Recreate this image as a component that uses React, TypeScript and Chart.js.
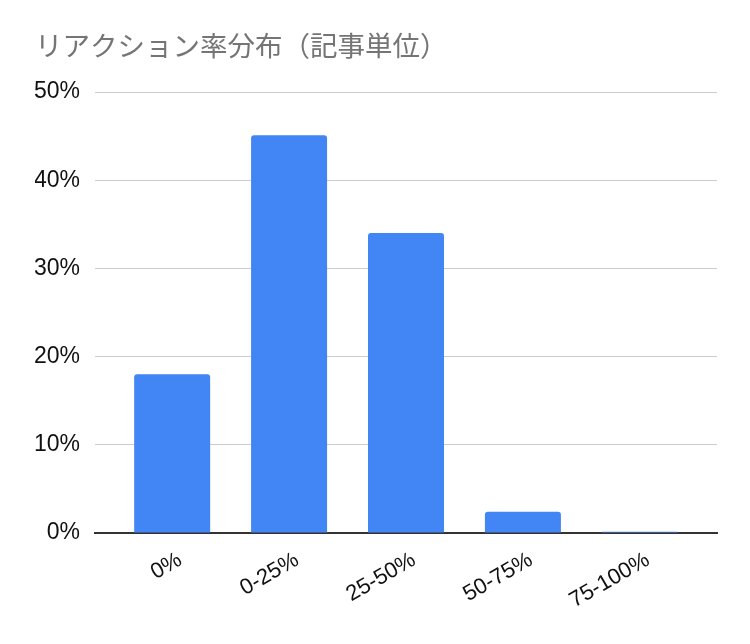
import { useEffect, useRef } from "react"
import { Chart, registerables } from "chart.js"

Chart.register(...registerables)

const categories = ["0%", "0-25%", "25-50%", "50-75%", "75-100%"]
const shares = [18.0, 45.1, 34.0, 2.4, 0.15]
const yTicks = [0, 10, 20, 30, 40, 50]

const LATIN = "'Liberation Sans', Arial, sans-serif"

export default function App() {
  const chartRef = useRef<HTMLCanvasElement>(null)
  const chartInstance = useRef<Chart | null>(null)

  useEffect(() => {
    if (!chartRef.current) return
    if (chartInstance.current) chartInstance.current.destroy()

    // categories sit on a linear axis so the plot keeps a margin on both sides
    const points = shares.map((v, i) => ({ x: i, y: v }))

    chartInstance.current = new Chart(chartRef.current, {
      type: "bar",
      data: {
        datasets: [
          {
            label: "リアクション率",
            data: points,
            backgroundColor: "#4285F4",
            borderRadius: 3,
            barPercentage: 0.65,
            categoryPercentage: 1,
          },
        ],
      },
      options: {
        animation: false,
        responsive: true,
        maintainAspectRatio: false,
        layout: { padding: { left: 35, right: 33, top: 0, bottom: 0 } },
        scales: {
          x: {
            type: "linear",
            min: -0.66,
            max: categories.length - 1 + 0.66,
            offset: false,
            grid: { display: false, drawTicks: false },
            border: { display: true, color: "#333333", width: 2 },
            afterBuildTicks: (scale) => {
              scale.ticks = categories.map((_, i) => ({ value: i }))
            },
            ticks: {
              color: "#111111",
              font: { family: LATIN, size: 22 },
              maxRotation: 30,
              minRotation: 30,
              padding: 14,
              labelOffset: 8,
              callback: (value) => categories[Number(value)] ?? "",
            },
            afterFit: (scale) => {
              scale.height = 111
            },
          },
          y: {
            min: yTicks[0],
            max: yTicks[yTicks.length - 1],
            grid: { color: "#cccccc", drawTicks: false },
            border: { display: false },
            afterBuildTicks: (scale) => {
              scale.ticks = yTicks.map((v) => ({ value: v }))
            },
            ticks: {
              color: "#111111",
              font: { family: LATIN, size: 23 },
              padding: 15,
              callback: (value) => `${value}%`,
            },
            afterFit: (scale) => {
              scale.width = 60
            },
          },
        },
        plugins: {
          legend: { display: false },
          tooltip: { enabled: false },
          title: {
            display: true,
            text: "リアクション率分布（記事単位）",
            align: "start",
            color: "#757575",
            font: { family: "'Noto Sans CJK JP', sans-serif", size: 27.5, weight: "normal" },
            padding: { top: 29, bottom: 30 },
          },
        },
      },
    })

    return () => {
      if (chartInstance.current) {
        chartInstance.current.destroy()
        chartInstance.current = null
      }
    }
  }, [])

  return (
    <div style={{ position: "absolute", left: 0, top: 0, width: 750, height: 644, background: "#ffffff" }}>
      <canvas ref={chartRef}></canvas>
    </div>
  )
}
